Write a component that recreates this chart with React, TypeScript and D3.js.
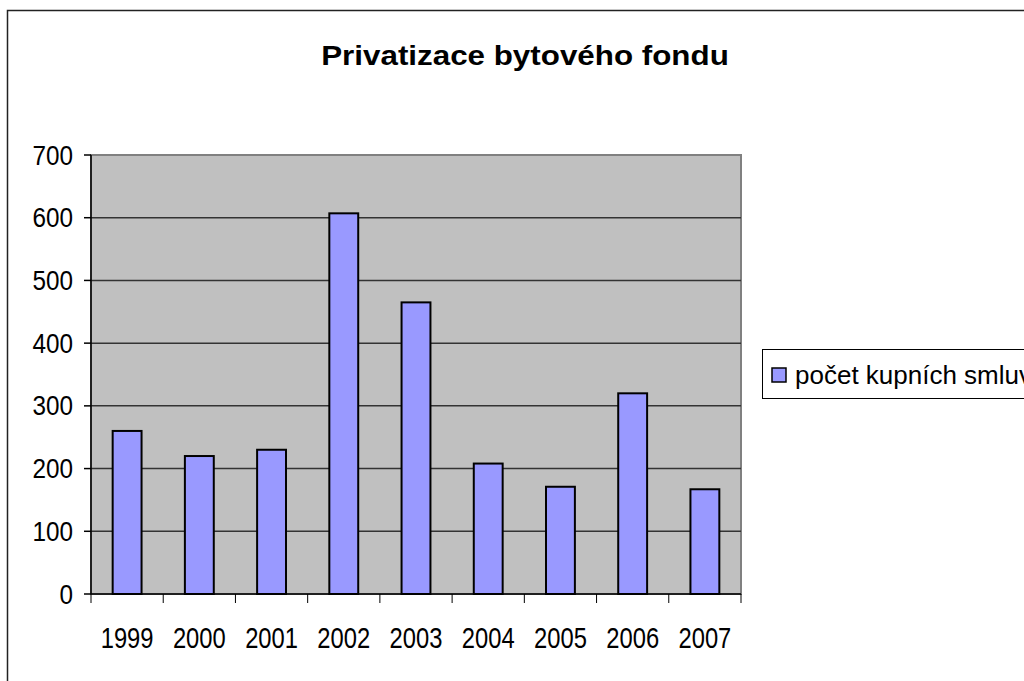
import React, { useEffect, useRef } from "react";
import * as d3 from "d3";

const years = ["1999", "2000", "2001", "2002", "2003", "2004", "2005", "2006", "2007"];
const contracts = [260, 220, 230, 607, 465, 208, 171, 320, 167];
const yTicks = [0, 100, 200, 300, 400, 500, 600, 700];
const title = "Privatizace bytového fondu";
const seriesName = "počet kupních smluv";

export default function App() {
  const svgRef = useRef<SVGSVGElement>(null);
  const width = 1024;
  const height = 681;
  const plot = { left: 91, right: 741, top: 155, bottom: 594 };
  const font = "'Liberation Sans', Arial, sans-serif";

  useEffect(() => {
    const svg = d3.select(svgRef.current);
    svg.selectAll("*").remove();

    // chart area border (extends past the visible canvas on right and bottom)
    svg.append("rect")
      .attr("x", 7.5).attr("y", 10.5)
      .attr("width", 1100).attr("height", 700)
      .attr("fill", "white").attr("stroke", "#222").attr("stroke-width", 1.5);

    svg.append("text")
      .attr("transform", "translate(525,65) scale(1.12,1)")
      .attr("text-anchor", "middle")
      .attr("font-family", font).attr("font-weight", "bold").attr("font-size", 28)
      .text(title);

    const x = d3.scaleBand().domain(years).range([plot.left, plot.right]).paddingInner(0.6).paddingOuter(0.3);
    const band = d3.scaleBand().domain(years).range([plot.left, plot.right]);
    const y = d3.scaleLinear().domain([0, 700]).range([plot.bottom, plot.top]);

    // plot area
    svg.append("rect")
      .attr("x", plot.left).attr("y", plot.top)
      .attr("width", plot.right - plot.left).attr("height", plot.bottom - plot.top)
      .attr("fill", "#C0C0C0").attr("stroke", "#808080").attr("stroke-width", 2);

    // gridlines
    svg.append("g").selectAll("line")
      .data(yTicks.filter(d => d > 0 && d < 700))
      .join("line")
      .attr("x1", plot.left).attr("x2", plot.right)
      .attr("y1", d => y(d)).attr("y2", d => y(d))
      .attr("stroke", "#333").attr("stroke-width", 1.5);

    // bars
    svg.append("g").selectAll("rect")
      .data(contracts)
      .join("rect")
      .attr("x", (d, i) => x(years[i])!)
      .attr("width", x.bandwidth())
      .attr("y", d => y(d))
      .attr("height", d => y(0) - y(d))
      .attr("fill", "#9999FF").attr("stroke", "black").attr("stroke-width", 2);

    // y axis
    const yAxis = svg.append("g").attr("transform", `translate(${plot.left},0)`);
    yAxis.append("line")
      .attr("x1", 0).attr("x2", 0).attr("y1", plot.top).attr("y2", plot.bottom)
      .attr("stroke", "black").attr("stroke-width", 1.5);
    yAxis.selectAll("line.tick")
      .data(yTicks)
      .join("line")
      .attr("class", "tick")
      .attr("x1", -7).attr("x2", 0)
      .attr("y1", d => y(d)).attr("y2", d => y(d))
      .attr("stroke", "black").attr("stroke-width", 1.5);
    yAxis.selectAll("text")
      .data(yTicks)
      .join("text")
      .attr("transform", d => `translate(-18,${y(d) + 9.5}) scale(0.9,1)`)
      .attr("text-anchor", "end")
      .attr("font-family", font).attr("font-size", 27)
      .text(d => d);

    // x axis
    const xAxis = svg.append("g").attr("transform", `translate(0,${plot.bottom})`);
    xAxis.append("line")
      .attr("x1", plot.left).attr("x2", plot.right)
      .attr("stroke", "black").attr("stroke-width", 1.5);
    xAxis.selectAll("line.tick")
      .data([...years.map(d => band(d)!), plot.right])
      .join("line")
      .attr("class", "tick")
      .attr("x1", d => d).attr("x2", d => d)
      .attr("y1", 0).attr("y2", 9)
      .attr("stroke", "black").attr("stroke-width", 1);
    xAxis.selectAll("text")
      .data(years)
      .join("text")
      .attr("transform", d => `translate(${band(d)! + band.bandwidth() / 2},54) scale(0.82,1)`)
      .attr("text-anchor", "middle")
      .attr("font-family", font).attr("font-size", 29)
      .text(d => d);

    // legend
    const legend = svg.append("g");
    legend.append("rect")
      .attr("x", 762.5).attr("y", 349.5).attr("width", 300).attr("height", 49)
      .attr("fill", "white").attr("stroke", "black").attr("stroke-width", 1);
    legend.append("rect")
      .attr("x", 772).attr("y", 368).attr("width", 14).attr("height", 14)
      .attr("fill", "#9999FF").attr("stroke", "black").attr("stroke-width", 1.5);
    legend.append("text")
      .attr("x", 795).attr("y", 384)
      .attr("font-family", font).attr("font-size", 26)
      .text(seriesName);
  }, []);

  return (
    <svg ref={svgRef} width={width} height={height}
      style={{ position: "absolute", left: 0, top: 0, background: "white" }} />
  );
}
